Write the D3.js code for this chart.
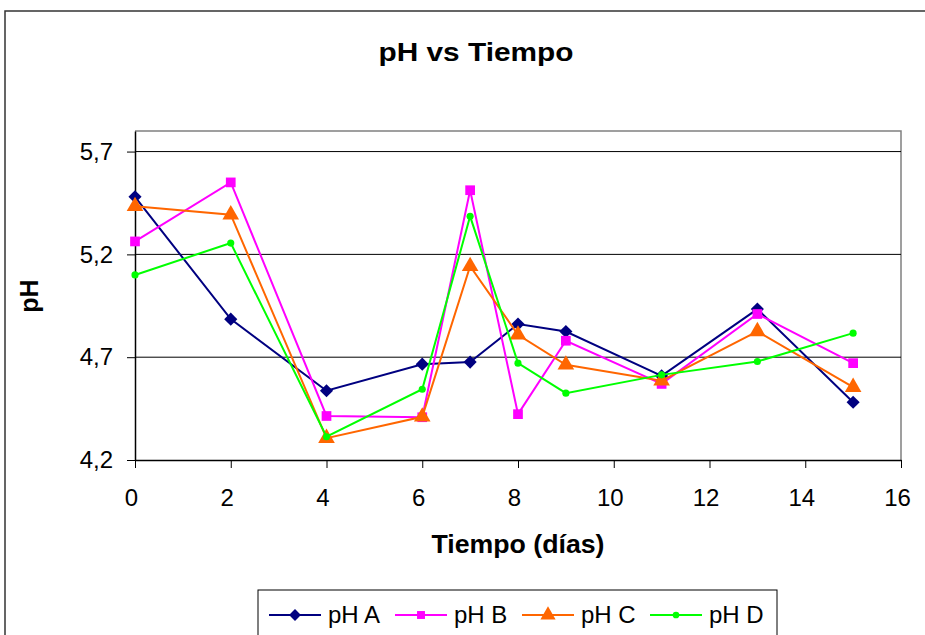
<!DOCTYPE html>
<html>
<head>
  <meta charset="utf8">
  <script src="https://d3js.org/d3.v7.min.js"></script>
  <style>
    body { margin: 0; background: #fff; }
    text { font-family: "Liberation Sans", Arial, sans-serif; fill: #000; }
    .tick text { font-size: 24px; }
    .title { font-size: 26px; font-weight: bold; }
    .axis-title { font-size: 25px; font-weight: bold; }
    .legend text { font-size: 24px; }
  </style>
</head>
<body>
  <svg id="chart" width="925" height="635"></svg>
  <script>
    // days sampled
    var days = [0, 2, 4, 6, 7, 8, 9, 11, 13, 15];

    var phA = [5.48, 4.885, 4.537, 4.666, 4.676, 4.861, 4.825, 4.609, 4.934, 4.481];
    var phB = [5.263, 5.55, 4.414, 4.408, 5.512, 4.423, 4.78, 4.57, 4.91, 4.671];
    var phC = [5.434, 5.393, 4.306, 4.41, 5.142, 4.809, 4.663, 4.586, 4.825, 4.554];
    var phD = [5.10, 5.255, 4.313, 4.544, 5.385, 4.671, 4.525, 4.614, 4.679, 4.817];

    var seriesNames = ['pH A', 'pH B', 'pH C', 'pH D'];
    var seriesColors = ['#000080', '#FF00FF', '#FF6600', '#00FF00'];
    var seriesSymbols = ['diamond', 'square', 'triangle', 'circle'];

    var xTicks = [0, 2, 4, 6, 8, 10, 12, 14, 16];
    var yTicks = [4.2, 4.7, 5.2, 5.7];

    var series = [phA, phB, phC, phD].map(function (vals, i) {
      return {
        name: seriesNames[i],
        color: seriesColors[i],
        symbol: seriesSymbols[i],
        points: vals.map(function (v, j) { return { x: days[j], y: v }; })
      };
    });

    var chart = d3.select('#chart');

    // outer chart frame
    chart.append('rect')
      .attr('x', 5).attr('y', 11)
      .attr('width', 940).attr('height', 660)
      .attr('fill', 'none')
      .attr('stroke', '#333')
      .attr('stroke-width', 1.5);

    var x = d3.scaleLinear().domain([0, 16]).range([135, 901]);
    var y = d3.scaleLinear().domain([4.2, 5.8]).range([460, 131]);

    var fmt = function (d) { return d3.format('.1f')(d).replace('.', ','); };

    // plot area border (top and right grey)
    chart.append('path')
      .attr('d', 'M' + x(0) + ',' + y(5.8) + 'H' + x(16) + 'V' + y(4.2))
      .attr('fill', 'none')
      .attr('stroke', '#808080')
      .attr('stroke-width', 1.5);

    // gridlines
    chart.append('g')
      .selectAll('line')
      .data(yTicks.slice(1))
      .enter()
      .append('line')
      .attr('x1', x(0)).attr('x2', x(16))
      .attr('y1', function (d) { return y(d); })
      .attr('y2', function (d) { return y(d); })
      .attr('stroke', '#000')
      .attr('stroke-width', 1);

    var xAxis = chart.append('g')
      .attr('transform', 'translate(0,' + y(4.2) + ')')
      .call(d3.axisBottom(x).tickValues(xTicks).tickSize(8).tickPadding(22).tickSizeOuter(0));

    var yAxis = chart.append('g')
      .attr('transform', 'translate(' + x(0) + ',0)')
      .call(d3.axisLeft(y).tickValues(yTicks).tickFormat(fmt).tickSize(8).tickPadding(14).tickSizeOuter(0));

    [xAxis, yAxis].forEach(function (ax) {
      ax.attr('font-family', null).attr('font-size', null);
      ax.select('.domain').attr('stroke', '#000').attr('stroke-width', 1.5);
      ax.selectAll('.tick line').attr('stroke', '#000');
    });
    xAxis.selectAll('.tick text').attr('dx', -4).attr('dy', '0.35em').attr('y', 38);

    // series lines
    var line = d3.line()
      .x(function (d) { return x(d.x); })
      .y(function (d) { return y(d.y); });

    var symbolFor = {
      diamond: d3.symbol().type(d3.symbolDiamond2).size(110),
      square: d3.symbol().type(d3.symbolSquare2).size(120),
      triangle: d3.symbol().type(d3.symbolTriangle).size(120),
      circle: d3.symbol().type(d3.symbolCircle).size(40)
    };

    var groups = chart.selectAll('.series')
      .data(series)
      .enter()
      .append('g')
      .attr('class', 'series');

    groups.append('path')
      .attr('d', function (d) { return line(d.points); })
      .attr('fill', 'none')
      .attr('stroke', function (d) { return d.color; })
      .attr('stroke-width', 2);

    groups.each(function (s) {
      d3.select(this).selectAll('.mark')
        .data(s.points)
        .enter()
        .append('path')
        .attr('class', 'mark')
        .attr('transform', function (d) { return 'translate(' + x(d.x) + ',' + y(d.y) + ')'; })
        .attr('d', symbolFor[s.symbol]())
        .attr('fill', s.color);
    });

    // titles
    chart.append('text')
      .attr('class', 'title')
      .attr('x', 476).attr('y', 61)
      .attr('text-anchor', 'middle')
      .attr('textLength', 195)
      .attr('lengthAdjust', 'spacingAndGlyphs')
      .text('pH vs Tiempo');

    chart.append('text')
      .attr('class', 'axis-title')
      .attr('x', 518).attr('y', 553)
      .attr('text-anchor', 'middle')
      .attr('textLength', 173)
      .attr('lengthAdjust', 'spacingAndGlyphs')
      .text('Tiempo (días)');

    chart.append('text')
      .attr('class', 'axis-title')
      .attr('transform', 'translate(38,296) rotate(-90)')
      .attr('text-anchor', 'middle')
      .text('pH');

    // legend
    var legend = chart.append('g').attr('class', 'legend');
    legend.append('rect')
      .attr('x', 258).attr('y', 590)
      .attr('width', 519).attr('height', 60)
      .attr('fill', 'none')
      .attr('stroke', '#000')
      .attr('stroke-width', 1);

    var legendSymbol = {
      diamond: d3.symbol().type(d3.symbolDiamond2).size(90),
      square: d3.symbol().type(d3.symbolSquare2).size(80),
      triangle: d3.symbol().type(d3.symbolTriangle).size(100),
      circle: d3.symbol().type(d3.symbolCircle).size(35)
    };

    var itemX = [269, 395, 522, 650];
    var item = legend.selectAll('.item')
      .data(series)
      .enter()
      .append('g')
      .attr('class', 'item')
      .attr('transform', function (d, i) { return 'translate(' + itemX[i] + ',615)'; });

    item.append('line')
      .attr('x1', 0).attr('x2', 52)
      .attr('stroke', function (d) { return d.color; })
      .attr('stroke-width', 2);
    item.append('path')
      .attr('transform', 'translate(26,0)')
      .attr('d', function (d) { return legendSymbol[d.symbol](); })
      .attr('fill', function (d) { return d.color; });
    item.append('text')
      .attr('x', 59)
      .attr('dy', '0.35em')
      .text(function (d) { return d.name; });
  </script>
</body>
</html>
